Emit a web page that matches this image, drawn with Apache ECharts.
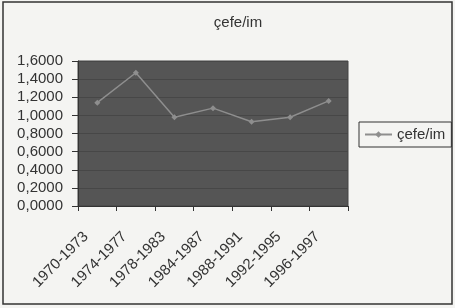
<!DOCTYPE html>
<html>
<head>
<meta charset="utf-8">
<script src="https://cdn.jsdelivr.net/npm/echarts@6/dist/echarts.min.js"></script>
<style>
  html, body { margin: 0; padding: 0; background: #f4f4f2; }
  #chart { width: 455px; height: 308px; }
</style>
</head>
<body>
<div id="chart"></div>
<script>
const periods = ['1970-1973', '1974-1977', '1978-1983', '1984-1987', '1988-1991', '1992-1995', '1996-1997'];
const cefeIm = [1.14, 1.47, 0.98, 1.08, 0.93, 0.98, 1.16];
const seriesName = 'çefe/im';

const chart = echarts.init(document.getElementById('chart'));
chart.setOption({
    animation: false,
    backgroundColor: '#f4f4f2',
    textStyle: { fontFamily: 'Liberation Sans, Arial, sans-serif' },
    title: {
        text: 'çefe/im',
        left: 233,
        textAlign: 'center',
        top: 10,
        textStyle: { fontSize: 15, fontWeight: 'normal', color: '#333' }
    },
    legend: {
        left: 359,
        top: 122,
        orient: 'vertical',
        borderColor: '#333',
        borderWidth: 1,
        borderRadius: 0,
        padding: [5, 6, 5, 5],
        itemWidth: 27,
        itemHeight: 8,
        itemGap: 0,
        textStyle: { fontSize: 15, color: '#333' },
        data: [seriesName]
    },
    grid: {
        left: 78,
        right: 107,
        top: 61,
        bottom: 102,
        show: true,
        backgroundColor: '#555555',
        borderColor: '#444',
        borderWidth: 1
    },
    xAxis: {
        type: 'category',
        data: periods,
        boundaryGap: true,
        axisLine: { lineStyle: { color: '#333', width: 1 } },
        axisTick: { show: true, length: 5, lineStyle: { color: '#333' } },
        axisLabel: {
            interval: 0,
            rotate: 45,
            fontSize: 15,
            color: '#333',
            margin: 17,
            padding: [0, 16, 0, 0]
        }
    },
    yAxis: {
        type: 'value',
        min: 0,
        max: 1.6,
        interval: 0.2,
        axisLine: { show: true, lineStyle: { color: '#333' } },
        axisTick: { show: true, length: 6, lineStyle: { color: '#333' } },
        splitLine: { show: true, lineStyle: { color: '#474747', width: 1 } },
        axisLabel: {
            fontSize: 15,
            color: '#333',
            margin: 15,
            formatter: v => v.toFixed(4).replace('.', ',')
        }
    },
    series: [{
        name: seriesName,
        type: 'line',
        data: cefeIm,
        symbol: 'diamond',
        symbolSize: 6,
        lineStyle: { color: '#8e8e8e', width: 1.5 },
        itemStyle: { color: '#8e8e8e' }
    }],
    graphic: [{
        type: 'rect',
        shape: { x: 3, y: 2, width: 449, height: 302 },
        style: { fill: null, stroke: '#333', lineWidth: 1.5 },
        silent: true
    }]
});
</script>
</body>
</html>
